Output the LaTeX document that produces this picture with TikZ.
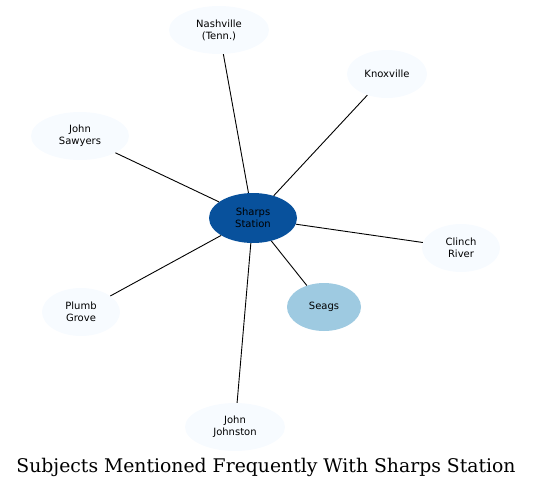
\documentclass[tikz,border=0pt]{standalone}
\usepackage{fontspec}
\usepackage{xcolor}
\usepackage{tikz}
\usetikzlibrary{shapes}
\newfontfamily\labelfont{DejaVu Sans}
\newfontfamily\titlefont{DejaVu Serif}
\definecolor{paleblue}{HTML}{F7FBFF}
\definecolor{deepblue}{HTML}{08519C}
\definecolor{midblue}{HTML}{9ECAE1}

\begin{document}
\begin{tikzpicture}[x=1pt, y=-1pt,
    subject/.style={ellipse, fill=paleblue, inner sep=0pt, minimum height=48pt,
        align=center, font=\labelfont\fontsize{10}{12}\selectfont},
    link/.style={black, line width=0.9pt}]
    \useasboundingbox (0,0) rectangle (533,488);

    % Central subject
    \node[subject, fill=deepblue, minimum width=88pt, minimum height=50pt] (sharps) at (253,218) {Sharps\\Station};

    % Related subjects around it
    \node[subject, minimum width=100pt] (nashville) at (219,30) {Nashville\\(Tenn.)};
    \node[subject, minimum width=80pt] (knoxville) at (387,74) {Knoxville};
    \node[subject, minimum width=98pt] (sawyers) at (80,136) {John\\Sawyers};
    \node[subject, minimum width=78pt] (clinch) at (461,248) {Clinch\\River};
    \node[subject, minimum width=78pt] (plumb) at (81,312) {Plumb\\Grove};
    \node[subject, fill=midblue, minimum width=74pt] (seags) at (324,307) {Seags};
    \node[subject, minimum width=100pt] (johnston) at (235,427) {John\\Johnston};

    % Connectors
    \foreach \other in {nashville,knoxville,sawyers,clinch,plumb,seags,johnston} {
        \draw[link] (sharps) -- (\other);
    }

    \node (title) at (266,467) {\titlefont\fontsize{18.8}{22}\selectfont Subjects Mentioned Frequently With Sharps Station};
\end{tikzpicture}
\end{document}
